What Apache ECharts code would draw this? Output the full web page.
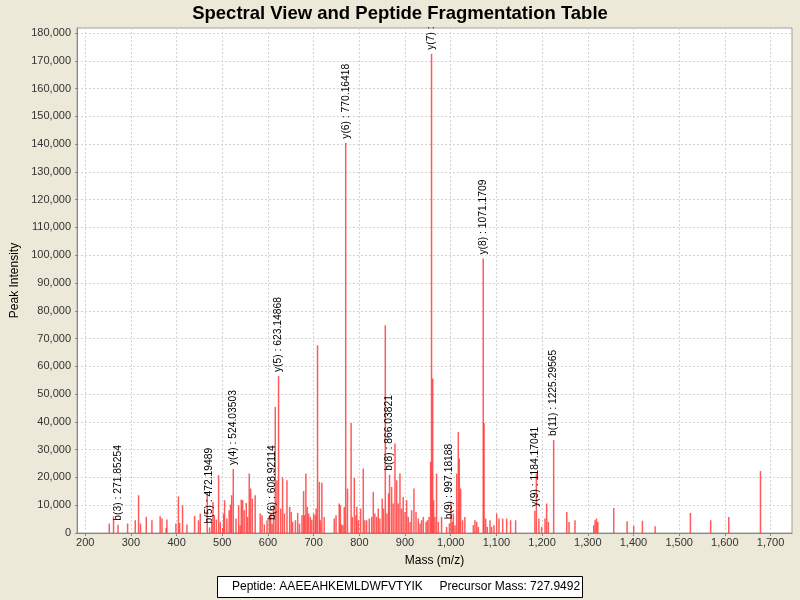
<!DOCTYPE html>
<html>
<head>
<meta charset="utf-8">
<script src="https://cdn.jsdelivr.net/npm/echarts@6/dist/echarts.min.js"></script>
<style>
html,body{margin:0;padding:0;background:#ECE9D8}
#chart{width:800px;height:600px}
</style>
</head>
<body>
<div id="chart"></div>
<script>
// peaks (m/z, intensity)
var peakMz = [252.6,262,292.7,309.5,316.8,321,333.6,346,364,368,377,378.8,398.5,404,406.6,413,422.6,439.4,448,451.8,
  467,477,479.6,482.5,487,492,495.6,500.7,503,505,510,515,518,520.5,530,535.8,539,541.6,544.5,548,552.5,555.5,559,562,565.7,572,
  583,587,592,598,603,606,612,616,619.7,628,632,636,641.6,647.5,651,654,660,665,669,674.5,678,680,683,686,689,692.7,696,700,703.6,
  705.5,708.5,712.4,714.6,718,723,745,749,756,758.4,760.6,764,767,774,782,784.7,789,792.7,794.5,798,
  802.8,808.6,812,816,821.7,827,830.5,834,838,841.4,845,850,853,856.8,860.4,864,870.6,874,878,881.6,885,888.9,892.5,896,
  900,903.5,907,911,914.4,919.5,924,929,932.7,936.3,940,946,949,952.4,956,960.5,962.6,965.5,969,973,980,991,
  1000.6,1003.5,1005.7,1009.3,1013,1016.6,1018.8,1021.7,1026,1031,1049.5,1053,1056.8,1060.4,1073,1076.5,1080,1086,1089.6,1094.7,
  1100.6,1105.7,1113.7,1122.5,1131,1142,1187.5,1193,1199,1206.4,1210,1213.7,1254,1259,1272,
  1313,1316,1319,1322,1356.8,1386,1400.5,1419.6,1447.4,1524.6,1569,1608.6,1678];
var peakIntensity = [3400,6000,3400,4600,13600,3400,5800,4600,6000,5200,1800,4900,3400,13200,3600,10000,3100,6100,4600,7000,
  14500,4000,11200,6400,4800,20800,4000,1800,7000,11800,5200,8200,10200,13600,5200,10000,2800,12000,11800,8200,10800,5800,21400,16000,12400,13600,
  7000,6400,3100,4600,5800,7000,10000,45400,19000,8800,20000,7000,19000,9400,7600,4000,4600,7200,3400,6400,15100,6400,21400,9400,7000,5800,4800,7000,6400,
  8800,67600,18400,4600,18100,5800,5200,6400,10600,10000,3100,2800,9400,16000,39600,5800,19800,6400,9400,4600,
  8800,23200,4600,4600,5200,5800,14800,7000,5800,8800,5200,12400,8800,74800,7000,14200,16600,10600,32200,19000,10600,21400,8800,13000,
  7600,11800,5800,4000,8200,16000,7600,5200,3400,4600,5800,4000,4600,5800,25600,55600,11800,5800,21400,4000,5800,2200,
  11200,4000,7000,2800,21400,36400,26800,16000,4600,5800,2800,4600,4000,2200,39600,5200,2200,4600,2200,2800,
  7000,5200,5200,5200,4600,4600,21400,5200,2200,5200,10600,4000,7600,4000,4600,
  2800,4600,5200,4000,9000,4200,2600,4400,2400,7200,4600,5800,22300];

// annotated fragment ions
var annMz = [271.85254,472.19489,524.03503,608.92114,623.14868,770.16418,958.0,866.03821,997.18188,1071.1709,1184.17041,1225.29565];
var annIntensity = [3000,2000,23000,3200,56500,140500,172500,21000,3500,98800,8000,33500];
var annLabel = ['b(3) : 271.85254','b(5) : 472.19489','y(4) : 524.03503','b(6) : 608.92114','y(5) : 623.14868',
  'y(6) : 770.16418','y(7) :','b(8) : 866.03821','b(9) : 997.18188','y(8) : 1071.1709','y(9) : 1184.17041','b(11) : 1225.29565'];

var xTicks = [200,300,400,500,600,700,800,900,1000,1100,1200,1300,1400,1500,1600,1700];
var yTicks = [0,10000,20000,30000,40000,50000,60000,70000,80000,90000,100000,110000,120000,130000,140000,150000,160000,170000,180000];

var font = 'Liberation Sans, Arial, sans-serif';

var data = [];
for (var i = 0; i < peakMz.length; i++) {
  data.push([peakMz[i], peakIntensity[i]]);
}
for (var j = 0; j < annMz.length; j++) {
  data.push({
    value: [annMz[j], annIntensity[j]],
    name: annLabel[j],
    label: {
      show: true,
      formatter: annLabel[j],
      position: 'top',
      rotate: 90,
      align: 'left',
      verticalAlign: 'middle',
      distance: 4,
      fontSize: 10.3,
      fontFamily: font,
      color: '#000'
    }
  });
}

function fmt(v) { return Number(v).toLocaleString('en-US'); }

var chart = echarts.init(document.getElementById('chart'));
chart.setOption({
  animation: false,
  backgroundColor: '#ECE9D8',
  title: [{
    text: 'Spectral View and Peptide Fragmentation Table',
    left: 'center',
    top: 4,
    padding: 0,
    textStyle: { fontSize: 18.5, fontWeight: 'bold', color: '#000', fontFamily: font }
  }, {
    text: 'Peptide: AAEEAHKEMLDWFVTYIK     Precursor Mass: 727.9492',
    left: 217,
    bottom: 2,
    padding: [5, 3, 5, 15],
    backgroundColor: '#fff',
    borderColor: '#000',
    borderWidth: 1,
    textStyle: { fontSize: 12, fontWeight: 'normal', color: '#000', fontFamily: font }
  }],
  grid: {
    left: 77, top: 28, width: 715, height: 505,
    show: true, backgroundColor: '#fff', borderColor: '#a0a0a0', borderWidth: 1
  },
  xAxis: {
    type: 'value',
    min: 182, max: 1747,
    name: 'Mass (m/z)',
    nameLocation: 'middle',
    nameGap: 22,
    nameTextStyle: { fontSize: 12, color: '#000', fontFamily: font },
    axisLine: { lineStyle: { color: '#888' } },
    axisTick: { show: true, length: 3, customValues: xTicks, lineStyle: { color: '#888' } },
    axisLabel: { customValues: xTicks, formatter: fmt, fontSize: 11, color: '#333', margin: 4, fontFamily: font },
    splitLine: { show: true, lineStyle: { color: '#d4d4d4', type: [2, 2] } }
  },
  yAxis: {
    type: 'value',
    min: 0, max: 181800,
    name: 'Peak Intensity',
    nameLocation: 'middle',
    nameGap: 49,
    nameTextStyle: { fontSize: 12, color: '#000', fontFamily: font },
    axisLine: { show: true, lineStyle: { color: '#888' } },
    axisTick: { show: true, length: 2, customValues: yTicks, lineStyle: { color: '#888' } },
    axisLabel: { customValues: yTicks, formatter: fmt, fontSize: 11, color: '#333', margin: 6, fontFamily: font },
    splitLine: { show: true, lineStyle: { color: '#d4d4d4', type: [2, 2] } }
  },
  series: [{
    type: 'bar',
    barWidth: 1.5,
    itemStyle: { color: 'rgba(255,50,50,0.8)' },
    data: data
  }]
});
</script>
</body>
</html>
